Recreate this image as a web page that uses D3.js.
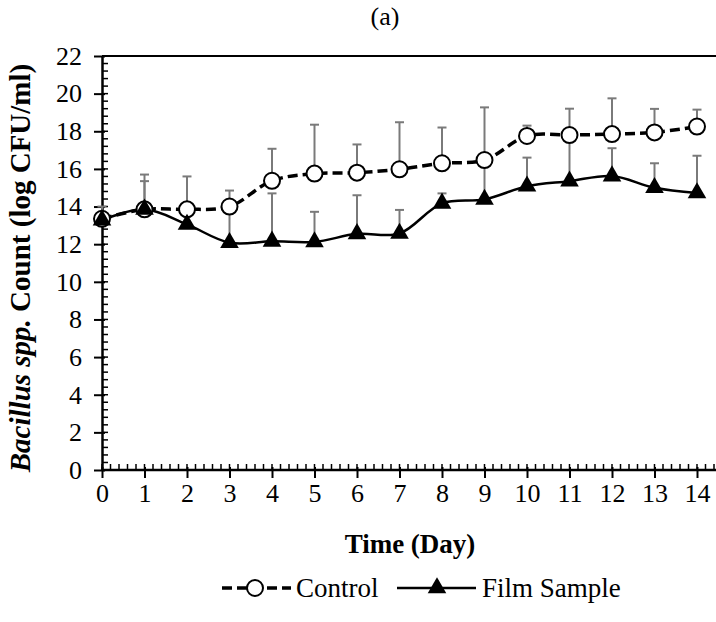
<!DOCTYPE html>
<html>
<head>
<meta charset="utf-8">
<script src="https://cdn.jsdelivr.net/npm/d3@7"></script>
<style>
  html, body { margin: 0; padding: 0; background: #fff; }
  svg, svg text { font-family: "Liberation Serif", "Times New Roman", serif; }
</style>
</head>
<body>
<div id="chart"></div>
<script>
  // data
  var days = [0, 1, 2, 3, 4, 5, 6, 7, 8, 9, 10, 11, 12, 13, 14];
  var controlMean = [13.35, 13.85, 13.85, 14.0, 15.37, 15.75, 15.8, 15.98, 16.3, 16.47, 17.75, 17.8, 17.85, 17.94, 18.25];
  var controlSD   = [0.65, 1.85, 1.75, 0.85, 1.7, 2.6, 1.5, 2.5, 1.9, 2.8, 0.55, 1.4, 1.9, 1.25, 0.9];
  var filmMean    = [13.28, 13.85, 13.05, 12.08, 12.15, 12.12, 12.55, 12.57, 14.17, 14.38, 15.08, 15.35, 15.62, 15.0, 14.72];
  var filmSD      = [0.4, 1.5, 0.75, 1.85, 2.55, 1.6, 2.05, 1.25, 0.53, 2.0, 1.52, 2.2, 1.48, 1.3, 1.98];
  var yTicks = [0, 2, 4, 6, 8, 10, 12, 14, 16, 18, 20, 22];

  var W = 716, H = 622;
  var plotL = 102, plotR = 714, plotT = 56, plotB = 470;

  var x = d3.scaleLinear().domain([0, 14.4]).range([plotL, plotR]);
  var y = d3.scaleLinear().domain([0, 22]).range([plotB, plotT]);

  var svg = d3.select('#chart').append('svg')
    .attr('width', W).attr('height', H);

  // title
  svg.append('text')
    .attr('x', 385).attr('y', 25)
    .attr('text-anchor', 'middle')
    .attr('font-size', '26px')
    .text('(a)');

  // top border of plot area
  svg.append('line')
    .attr('x1', plotL).attr('x2', W)
    .attr('y1', plotT).attr('y2', plotT)
    .attr('stroke', '#000').attr('stroke-width', 2);

  // minor ticks (inside)
  var minorX = d3.range(0, 14.41, 0.2);
  var minorY = d3.range(0, 22.01, 0.4);
  svg.append('g').selectAll('line').data(minorX).enter().append('line')
    .attr('x1', function (d) { return x(d); }).attr('x2', function (d) { return x(d); })
    .attr('y1', plotB).attr('y2', plotB - 6)
    .attr('stroke', '#000').attr('stroke-width', 1.5);
  svg.append('g').selectAll('line').data(minorY).enter().append('line')
    .attr('y1', function (d) { return y(d); }).attr('y2', function (d) { return y(d); })
    .attr('x1', plotL).attr('x2', plotL + 6)
    .attr('stroke', '#000').attr('stroke-width', 1.5);

  // axes (major ticks cross)
  var xAxis = svg.append('g')
    .attr('transform', 'translate(0,' + plotB + ')')
    .call(d3.axisBottom(x).tickValues(days).tickFormat(d3.format('d')).tickSize(8).tickSizeOuter(0));
  var yAxis = svg.append('g')
    .attr('transform', 'translate(' + plotL + ',0)')
    .call(d3.axisLeft(y).tickValues(yTicks).tickSize(8).tickSizeOuter(0));

  [xAxis, yAxis].forEach(function (g) {
    g.attr('font-size', 26);
    g.select('.domain').attr('stroke', '#000').attr('stroke-width', 2.5);
    g.selectAll('.tick line').attr('stroke', '#000').attr('stroke-width', 2);
    g.selectAll('.tick text').attr('fill', '#000')
      .style('font-family', '"Liberation Serif", "Times New Roman", serif');
  });
  xAxis.select('.domain').attr('d', 'M' + plotL + ',0H' + W);
  xAxis.selectAll('.tick line').attr('y1', -3);
  xAxis.selectAll('.tick text').attr('y', 14);
  yAxis.selectAll('.tick line').attr('x1', 3);
  yAxis.selectAll('.tick text').attr('x', -20);

  // axis titles
  svg.append('text')
    .attr('x', 410).attr('y', 553)
    .attr('text-anchor', 'middle')
    .attr('font-size', '27px').attr('font-weight', 'bold')
    .text('Time (Day)');

  var yTitle = svg.append('text')
    .attr('transform', 'translate(30,' + ((plotT + plotB) / 2 + 5) + ') rotate(-90)')
    .attr('text-anchor', 'middle')
    .attr('font-size', '29px').attr('font-weight', 'bold');
  yTitle.append('tspan').attr('font-style', 'italic').text('Bacillus spp.');
  yTitle.append('tspan').text(' Count (log CFU/ml)');

  var control = days.map(function (d, i) { return { x: d, v: controlMean[i], e: controlSD[i] }; });
  var film = days.map(function (d, i) { return { x: d, v: filmMean[i], e: filmSD[i] }; });

  // error bars (positive only)
  function errorBars(data) {
    var g = svg.append('g').attr('stroke', '#7a7a7a').attr('stroke-width', 2);
    g.selectAll('line.v').data(data).enter().append('line')
      .attr('x1', function (d) { return x(d.x); }).attr('x2', function (d) { return x(d.x); })
      .attr('y1', function (d) { return y(d.v); }).attr('y2', function (d) { return y(d.v + d.e); });
    g.selectAll('line.c').data(data).enter().append('line')
      .attr('x1', function (d) { return x(d.x) - 4.5; }).attr('x2', function (d) { return x(d.x) + 4.5; })
      .attr('y1', function (d) { return y(d.v + d.e); }).attr('y2', function (d) { return y(d.v + d.e); });
  }
  errorBars(control);
  errorBars(film);

  var line = d3.line()
    .x(function (d) { return x(d.x); })
    .y(function (d) { return y(d.v); })
    .curve(d3.curveCatmullRom.alpha(0.5));

  svg.append('path').datum(control)
    .attr('d', line).attr('fill', 'none')
    .attr('stroke', '#000').attr('stroke-width', 3.5)
    .attr('stroke-dasharray', '10,5');

  svg.append('path').datum(film)
    .attr('d', line).attr('fill', 'none')
    .attr('stroke', '#000').attr('stroke-width', 2.5);

  var tri = d3.symbol().type(d3.symbolTriangle).size(150);

  svg.append('g').selectAll('circle').data(control).enter().append('circle')
    .attr('cx', function (d) { return x(d.x); })
    .attr('cy', function (d) { return y(d.v); })
    .attr('r', 8)
    .attr('fill', '#fff').attr('stroke', '#000').attr('stroke-width', 2);

  svg.append('g').selectAll('path').data(film).enter().append('path')
    .attr('d', tri)
    .attr('transform', function (d) { return 'translate(' + x(d.x) + ',' + y(d.v) + ')'; })
    .attr('fill', '#000');

  // legend
  var ly = 588;
  var lg = svg.append('g');
  lg.append('line').attr('x1', 222).attr('x2', 291).attr('y1', ly).attr('y2', ly)
    .attr('stroke', '#000').attr('stroke-width', 3.5).attr('stroke-dasharray', '10,5');
  lg.append('circle').attr('cx', 255).attr('cy', ly).attr('r', 8)
    .attr('fill', '#fff').attr('stroke', '#000').attr('stroke-width', 2);
  lg.append('text').attr('x', 296).attr('y', ly + 9).attr('font-size', '27px').text('Control');
  lg.append('line').attr('x1', 397).attr('x2', 476).attr('y1', ly).attr('y2', ly)
    .attr('stroke', '#000').attr('stroke-width', 2.5);
  lg.append('path').attr('d', tri).attr('transform', 'translate(437,' + ly + ')').attr('fill', '#000');
  lg.append('text').attr('x', 482).attr('y', ly + 9).attr('font-size', '27px').text('Film Sample');
</script>
</body>
</html>
